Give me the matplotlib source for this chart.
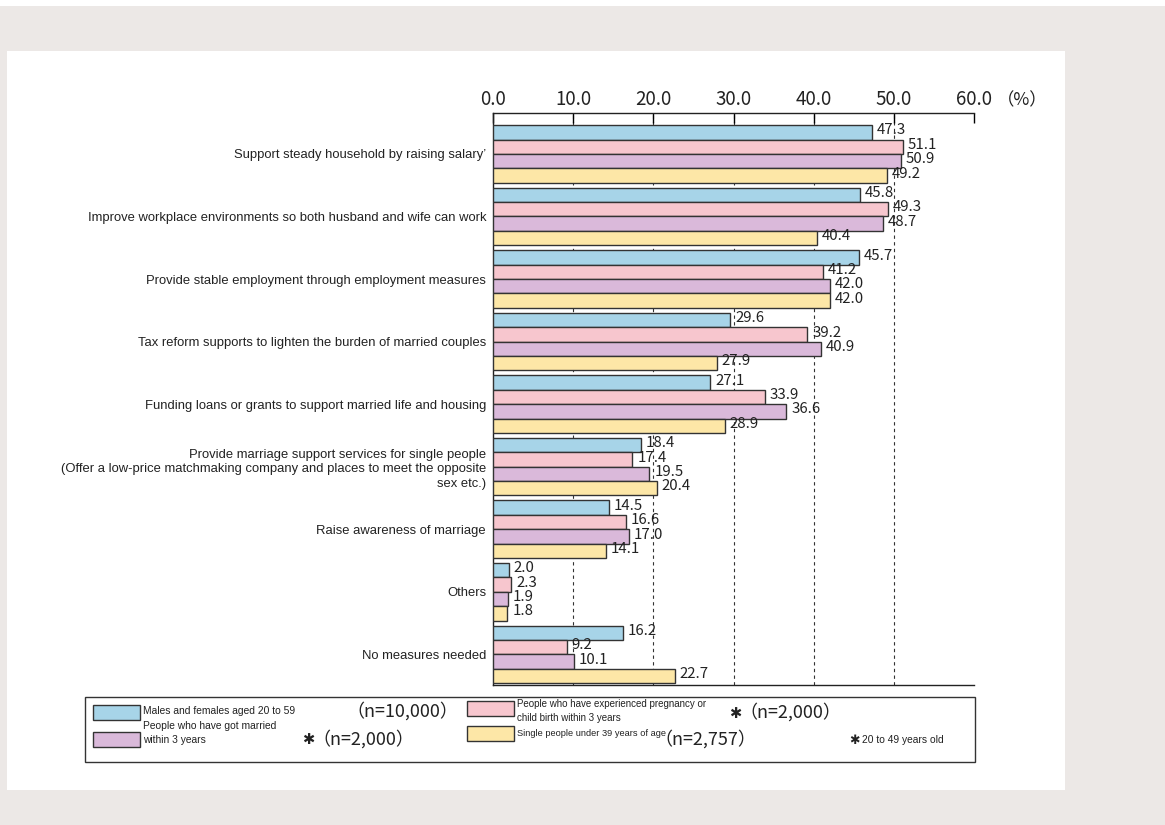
import numpy as np
import matplotlib
matplotlib.use("Agg")
import matplotlib.pyplot as plt
from matplotlib.patches import Rectangle

categories = [
    "Support steady household by raising salary\u2019",
    "Improve workplace environments so both husband and wife can work",
    "Provide stable employment through employment measures",
    "Tax reform supports to lighten the burden of married couples",
    "Funding loans or grants to support married life and housing",
    "Provide marriage support services for single people\n(Offer a low-price matchmaking company and places to meet the opposite\nsex etc.)",
    "Raise awareness of marriage",
    "Others",
    "No measures needed",
]

all_ages = [47.3, 45.8, 45.7, 29.6, 27.1, 18.4, 14.5, 2.0, 16.2]
pregnancy = [51.1, 49.3, 41.2, 39.2, 33.9, 17.4, 16.6, 2.3, 9.2]
married = [50.9, 48.7, 42.0, 40.9, 36.6, 19.5, 17.0, 1.9, 10.1]
single = [49.2, 40.4, 42.0, 27.9, 28.9, 20.4, 14.1, 1.8, 22.7]

series = [all_ages, pregnancy, married, single]
colors = ["#a7d4e8", "#f7c6ce", "#dab9da", "#fde7a7"]
xticks = [0, 10, 20, 30, 40, 50, 60]

sans = "Liberation Sans"
num_fam = ["Noto Sans CJK JP", "DejaVu Sans"]

W, H = 1165, 825
fig = plt.figure(figsize=(W / 100, H / 100), dpi=100)
fig.patch.set_facecolor("#ece8e6")

def px_rect(x0, y0, x1, y1, **kw):
    # rectangle given in pixel coords from top-left
    r = Rectangle((x0 / W, 1 - y1 / H), (x1 - x0) / W, (y1 - y0) / H,
                  transform=fig.transFigure, **kw)
    fig.add_artist(r)
    return r

px_rect(0, 0, W, 6, facecolor="white", edgecolor="none", zorder=0)
px_rect(7, 51, 1065, 790, facecolor="white", edgecolor="none", zorder=0)

ax_l, ax_r, ax_t, ax_b = 493, 974, 113, 685
ax = fig.add_axes([ax_l / W, 1 - ax_b / H, (ax_r - ax_l) / W, (ax_b - ax_t) / H])
ax.set_facecolor("white")

h = 0.23
y = np.arange(len(categories))
for k, vals in enumerate(series):
    pos = y - 0.46 + h * (k + 0.5)
    ax.barh(pos, vals, height=h, color=colors[k], edgecolor="#333333",
            linewidth=1.0, zorder=3)
    for p, v in zip(pos, vals):
        ax.text(v + 0.6, p - 0.03, f"{v:.1f}", va="center", ha="left",
                fontsize=10.8, color="#222222", zorder=4, family=num_fam)

for xv in xticks[1:-1]:
    ax.axvline(xv, color="#333333", linestyle=(0, (3, 3)), linewidth=0.8, zorder=1)

ax.set_xlim(0, 60)
ax.set_ylim(8.49, -0.654)
ax.set_xticks(xticks)
ax.set_xticklabels([f"{t:.1f}" for t in xticks], family=num_fam,
                   fontsize=13.5, color="#222222")
ax.xaxis.tick_top()
ax.tick_params(axis="x", direction="in", length=7, width=1, pad=2)
ax.set_yticks(y)
ax.set_yticklabels(categories, fontsize=9.35, family=sans,
                   color="#222222", linespacing=1.25)
ax.tick_params(axis="y", length=0, pad=5)
ax.spines["right"].set_visible(False)
for s in ["top", "left", "bottom"]:
    ax.spines[s].set_color("#222222")
    ax.spines[s].set_linewidth(1.0)

fig.text(997 / W, 1 - 100 / H, "\uff08%\uff09", fontsize=12.5, va="center", ha="left",
         family=num_fam, color="#222222")

# legend box
px_rect(85, 697, 975, 762, facecolor="white", edgecolor="#333333", linewidth=1.0, zorder=1)
px_rect(93, 705, 140, 720, facecolor=colors[0], edgecolor="#333333", linewidth=1.0, zorder=2)
px_rect(93, 732, 140, 747, facecolor=colors[2], edgecolor="#333333", linewidth=1.0, zorder=2)
px_rect(467, 701, 514, 716, facecolor=colors[1], edgecolor="#333333", linewidth=1.0, zorder=2)
px_rect(467, 726, 514, 741, facecolor=colors[3], edgecolor="#333333", linewidth=1.0, zorder=2)

def ftext(x, yy, s, size, fam=sans, **kw):
    fig.text(x / W, 1 - yy / H, s, fontsize=size, va="center", ha="left",
             family=fam, color="#222222", **kw)

star = "\u2731"
ls = 7.4
ftext(143, 711, "Males and females aged 20 to 59", ls)
ftext(346, 711, "\uff08n=10,000\uff09", 13, num_fam)
ftext(143, 733, "People who have got married\nwithin 3 years", ls, linespacing=1.4)
ftext(302, 740, star, 10.5, "DejaVu Sans")
ftext(312, 739, "\uff08n=2,000\uff09", 13, num_fam)
ftext(517, 711, "People who have experienced pregnancy or\nchild birth within 3 years", 7.0, linespacing=1.4)
ftext(729, 713, star, 10.5, "DejaVu Sans")
ftext(739, 712, "\uff08n=2,000\uff09", 13, num_fam)
ftext(517, 733, "Single people under 39 years of age", 6.7)
ftext(654, 739, "\uff08n=2,757\uff09", 13, num_fam)
ftext(849, 741, star, 9, "DejaVu Sans")
ftext(862, 740, "20 to 49 years old", ls)

fig.savefig("out.png", dpi=100, facecolor=fig.get_facecolor())
